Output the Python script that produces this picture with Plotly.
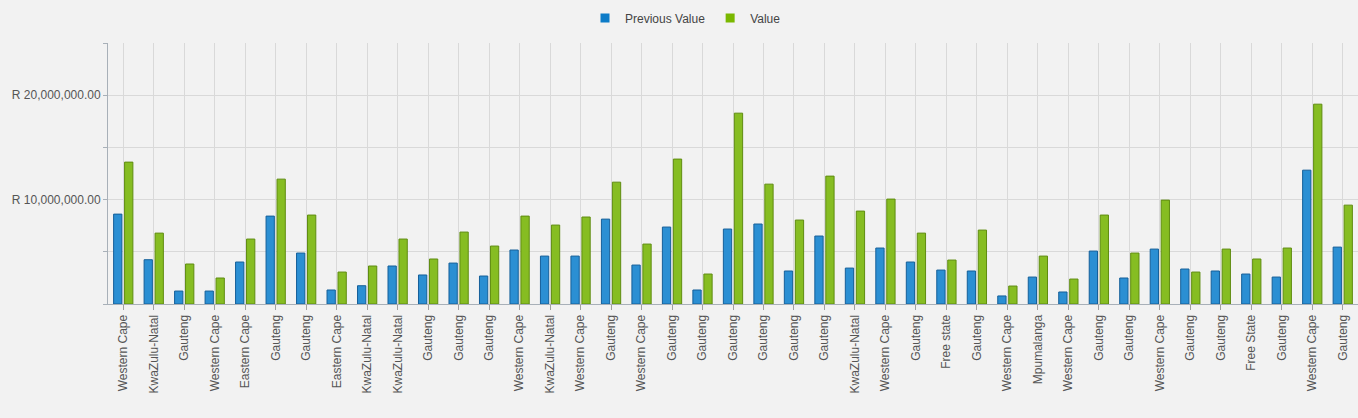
import plotly.graph_objects as go

categories = [
    "Western Cape", "KwaZulu-Natal", "Gauteng", "Western Cape", "Eastern Cape",
    "Gauteng", "Gauteng", "Eastern Cape", "KwaZulu-Natal", "KwaZulu-Natal",
    "Gauteng", "Gauteng", "Gauteng", "Western Cape", "KwaZulu-Natal",
    "Western Cape", "Gauteng", "Western Cape", "Gauteng", "Gauteng",
    "Gauteng", "Gauteng", "Gauteng", "Gauteng", "KwaZulu-Natal",
    "Western Cape", "Gauteng", "Free state", "Gauteng", "Western Cape",
    "Mpumalanga", "Western Cape", "Gauteng", "Gauteng", "Western Cape",
    "Gauteng", "Gauteng", "Free State", "Gauteng", "Western Cape", "Gauteng",
]

previous_value = [
    8.61, 4.24, 1.24, 1.24, 4.02, 8.42, 4.88, 1.34, 1.75, 3.64,
    2.78, 3.92, 2.68, 5.17, 4.59, 4.59, 8.13, 3.73, 7.37, 1.34,
    7.18, 7.66, 3.16, 6.51, 3.44, 5.36, 4.02, 3.25, 3.16, 0.77,
    2.58, 1.15, 5.07, 2.49, 5.26, 3.35, 3.16, 2.87, 2.58, 12.82, 5.45,
]
value = [
    13.59, 6.79, 3.83, 2.49, 6.22, 11.96, 8.52, 3.06, 3.64, 6.22,
    4.31, 6.89, 5.55, 8.42, 7.56, 8.33, 11.67, 5.74, 13.88, 2.87,
    18.28, 11.48, 8.04, 12.25, 8.90, 10.05, 6.79, 4.21, 7.08, 1.72,
    4.59, 2.39, 8.52, 4.88, 9.95, 3.06, 5.26, 4.31, 5.36, 19.14, 9.47,
]

series_names = ["Previous Value", "Value"]

y_tick_values = [0, 5e6, 10e6, 15e6, 20e6, 25e6]
y_tick_labels = ["", "", "R 10,000,000.00", "", "R 20,000,000.00", ""]

x_index = list(range(len(categories)))
prev_abs = [v * 1e6 for v in previous_value]
val_abs = [v * 1e6 for v in value]

fill_colors = ["#2b8fd3", "#86bd22"]
edge_colors = ["#155f99", "#5f8c10"]
legend_colors = ["#0d7cc8", "#7ab800"]

fig = go.Figure()
for name, ys, fc, ec in zip(series_names, [prev_abs, val_abs], fill_colors, edge_colors):
    fig.add_trace(go.Bar(
        name=name, x=x_index, y=ys, showlegend=False,
        marker=dict(color=fc, line=dict(color=ec, width=1)),
    ))
for name, lc in zip(series_names, legend_colors):
    fig.add_trace(go.Scatter(
        name=name, x=[None], y=[None], mode="markers",
        marker=dict(symbol="square", size=9, color=lc, line=dict(width=0)),
    ))

font_family = "Liberation Sans, Arial, sans-serif"
fig.update_layout(
    width=1358, height=418,
    paper_bgcolor="#f2f2f2", plot_bgcolor="#f2f2f2",
    margin=dict(l=108, r=0, t=43, b=114),
    barmode="group", bargap=0.28, bargroupgap=0.245,
    font=dict(family=font_family, size=12, color="#555555"),
    showlegend=True,
    legend=dict(orientation="h", x=0.462, xanchor="center",
                y=1 - 18 / 418, yref="container", yanchor="middle",
                font=dict(size=12, color="#444444"),
                itemsizing="trace", itemwidth=30, tracegroupgap=0,
                bgcolor="rgba(0,0,0,0)"),
    xaxis=dict(
        tickmode="array", tickvals=x_index, ticktext=categories,
        tickangle=-90, tickson="boundaries", ticks="outside", ticklen=5,
        tickcolor="#a0a0a0", showgrid=True, gridcolor="#d9d9d9", gridwidth=1,
        showline=True, linecolor="#a8b0b8", linewidth=1,
        range=[-0.5, len(categories) - 0.5], zeroline=False,
        tickfont=dict(size=12, color="#555555"),
    ),
    yaxis=dict(
        range=[0, 25e6], tickmode="array", tickvals=y_tick_values, ticktext=y_tick_labels,
        ticks="outside", ticklen=4, tickcolor="#a8b0b8",
        showgrid=True, gridcolor="#d9d9d9", gridwidth=1,
        showline=True, linecolor="#a8b0b8", linewidth=1, zeroline=False,
        tickfont=dict(size=12, color="#555555"),
    ),
)

page_fix = (
    "document.body.style.margin='0px';"
    "document.body.style.background='#f2f2f2';"
    "document.body.style.overflow='hidden';"
)
fig.write_html("out.html", post_script=page_fix, config={"displayModeBar": False})
